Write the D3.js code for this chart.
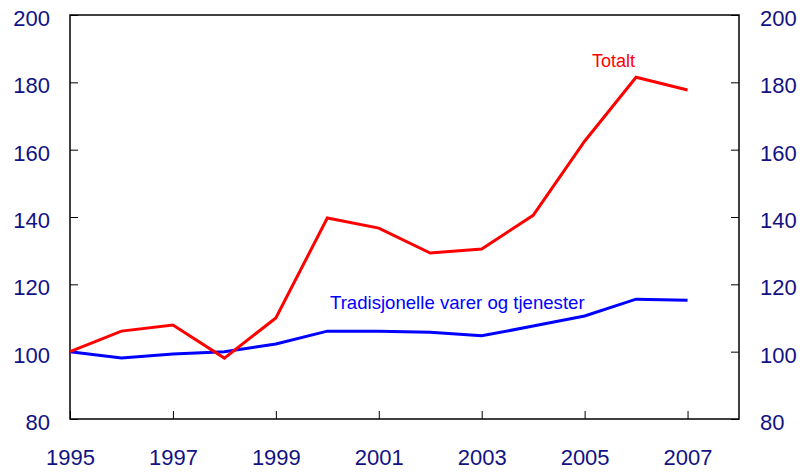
<!DOCTYPE html>
<html>
<head>
<meta charset="utf-8">
<script src="https://cdn.jsdelivr.net/npm/d3@7/dist/d3.min.js"></script>
<style>
  body { margin: 0; background: #fff; }
  svg text { font-family: "Liberation Sans", Arial, sans-serif; }
</style>
</head>
<body>
<svg id="chart" width="802" height="473"></svg>
<script>
const years = [1995, 1996, 1997, 1998, 1999, 2000, 2001, 2002, 2003, 2004, 2005, 2006, 2007];
const totalt = [100, 106.1, 107.9, 98.1, 110, 139.7, 136.7, 129.3, 130.5, 140.5, 162.5, 181.5, 177.7];
const tradisjonelle = [100, 98.1, 99.3, 100, 102.3, 106.1, 106.1, 105.8, 104.7, 107.6, 110.6, 115.6, 115.3];
const xTicks = [1995, 1997, 1999, 2001, 2003, 2005, 2007];
const yTicks = [80, 100, 120, 140, 160, 180, 200];

const svg = d3.select('#chart');
const plotLeft = 70, plotRight = 739, plotTop = 15, plotBottom = 419;
const labelColor = '#121285';

const x = d3.scaleLinear().domain([1995, 2008]).range([plotLeft, plotRight]);
const y = d3.scaleLinear().domain([80, 200]).range([plotBottom, plotTop]);

// ramme
svg.append('rect')
  .attr('x', plotLeft).attr('y', plotTop)
  .attr('width', plotRight - plotLeft).attr('height', plotBottom - plotTop)
  .attr('fill', 'none').attr('stroke', '#000').attr('stroke-width', 1.5);

// akser med innvendige ticks
const xAxis = svg.append('g')
  .attr('transform', `translate(0,${plotBottom})`)
  .call(d3.axisBottom(x).tickValues(xTicks).tickSizeInner(-8).tickSizeOuter(0).tickPadding(30).tickFormat(d3.format('d')));

const yLeft = svg.append('g')
  .attr('transform', `translate(${plotLeft},0)`)
  .call(d3.axisLeft(y).tickValues(yTicks).tickSizeInner(-8).tickSizeOuter(0).tickPadding(20));

const yRight = svg.append('g')
  .attr('transform', `translate(${plotRight},0)`)
  .call(d3.axisRight(y).tickValues(yTicks).tickSizeInner(-8).tickSizeOuter(0).tickPadding(21));

[xAxis, yLeft, yRight].forEach(g => {
  g.select('.domain').remove();
  g.selectAll('.tick line').attr('stroke', '#000').attr('stroke-width', 1);
  g.selectAll('.tick text')
    .attr('fill', labelColor)
    .style('font-size', '22px')
    .style('font-family', '"Liberation Sans", Arial, sans-serif');
});
yLeft.selectAll('.tick text').attr('dy', '0.47em');
yRight.selectAll('.tick text').attr('dy', '0.47em');

const line = d3.line()
  .x((d, i) => x(years[i]))
  .y(d => y(d));

svg.append('path')
  .datum(tradisjonelle)
  .attr('d', line)
  .attr('fill', 'none')
  .attr('stroke', '#0000ff')
  .attr('stroke-width', 3);

svg.append('path')
  .datum(totalt)
  .attr('d', line)
  .attr('fill', 'none')
  .attr('stroke', '#ff0000')
  .attr('stroke-width', 3);

svg.append('text')
  .attr('x', 592).attr('y', 67)
  .attr('fill', '#ff0000')
  .style('font-size', '18px')
  .text('Totalt');

svg.append('text')
  .attr('x', 330).attr('y', 309)
  .attr('fill', '#0000ff')
  .style('font-size', '18.6px')
  .text('Tradisjonelle varer og tjenester');
</script>
</body>
</html>
